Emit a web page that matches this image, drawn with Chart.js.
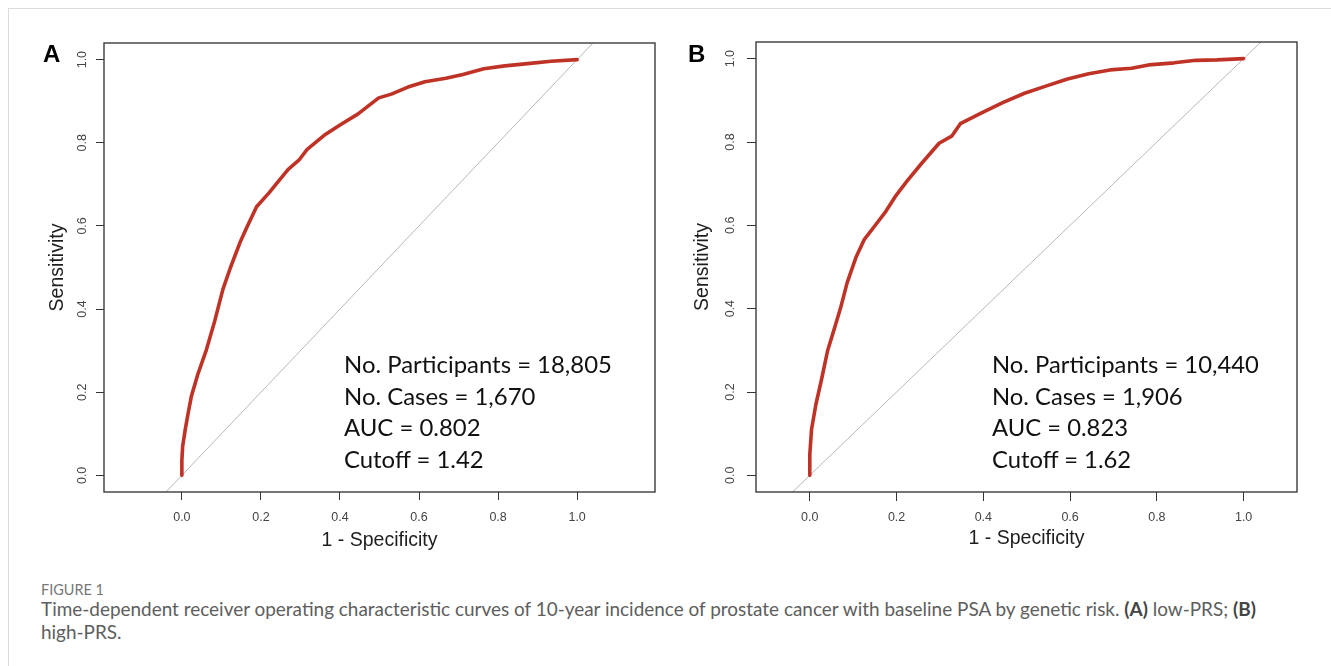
<!DOCTYPE html>
<html>
<head>
<meta charset="utf-8">
<script src="https://cdn.jsdelivr.net/npm/chart.js@4.4.0/dist/chart.umd.min.js"></script>
<style>
  body { margin: 0; background: #fff; width: 1331px; height: 666px; overflow: hidden; position: relative; }
  .frame { position: absolute; left: 8px; top: 8px; width: 1400px; height: 720px; border: 1px solid #dcdcdc; }
  canvas { position: absolute; top: 0; }
  #rocA { left: 0; }
  #rocB { left: 660px; }
  .panel { position: absolute; top: 42px; font: bold 24px 'Liberation Sans', Arial, sans-serif; line-height: 1; color: #000; }
  .info { position: absolute; top: 348px; font-family: Lato, sans-serif; font-size: 23px; line-height: 31.7px; color: #111; white-space: nowrap; }
  .info span { display: inline-block; }
  .fig { position: absolute; left: 41px; top: 581px; font-family: Lato, sans-serif; font-size: 12px; line-height: 18px; color: #777; white-space: nowrap; }
  .cap { position: absolute; left: 41px; top: 598px; font-family: Lato, sans-serif; font-size: 15.5px; line-height: 21px; color: #5e5e5e; white-space: nowrap; }
  .cap b { color: #444; }
  .fig span, .cap span { display: inline-block; }
</style>
</head>
<body>
<div class="frame"></div>
<canvas id="rocA" width="665" height="560"></canvas>
<canvas id="rocB" width="671" height="560"></canvas>
<div class="panel" style="left:43px">A</div>
<div class="panel" style="left:688px">B</div>
<div class="info" id="infoA" style="left:344px"></div>
<div class="info" id="infoB" style="left:992px"></div>
<div class="fig"><span id="figLabel"></span></div>
<div class="cap"><span id="cap1"></span><br><span id="cap2"></span></div>
<script>
// axis ticks
const tickVals = [0, 0.2, 0.4, 0.6, 0.8, 1.0];
const refLine = [-1, 2];

// panel A: low-PRS
const fprA = [0, 0, 0.002, 0.009, 0.016, 0.024, 0.04, 0.062, 0.083, 0.104, 0.123, 0.147, 0.163, 0.189, 0.221, 0.243, 0.269, 0.296, 0.317, 0.36, 0.402, 0.445, 0.498, 0.53, 0.572, 0.615, 0.668, 0.711, 0.764, 0.817, 0.881, 0.934, 1];
const tprA = [0, 0.036, 0.07, 0.113, 0.15, 0.19, 0.242, 0.302, 0.371, 0.448, 0.5, 0.56, 0.594, 0.646, 0.68, 0.706, 0.736, 0.758, 0.784, 0.818, 0.844, 0.869, 0.908, 0.917, 0.934, 0.947, 0.955, 0.964, 0.978, 0.985, 0.991, 0.996, 1];
const infoA = ['No. Participants = 18,805', 'No. Cases = 1,670', 'AUC = 0.802', 'Cutoff = 1.42'];

// panel B: high-PRS
const fprB = [0, 0, 0.004, 0.014, 0.027, 0.041, 0.056, 0.071, 0.086, 0.106, 0.125, 0.15, 0.175, 0.199, 0.224, 0.258, 0.298, 0.327, 0.347, 0.396, 0.446, 0.495, 0.544, 0.594, 0.643, 0.692, 0.742, 0.781, 0.84, 0.89, 0.939, 1];
const tprB = [0, 0.05, 0.11, 0.17, 0.23, 0.299, 0.35, 0.402, 0.462, 0.522, 0.565, 0.599, 0.633, 0.672, 0.706, 0.749, 0.797, 0.814, 0.844, 0.87, 0.895, 0.917, 0.934, 0.951, 0.964, 0.973, 0.977, 0.985, 0.99, 0.996, 0.997, 1];
const infoB = ['No. Participants = 10,440', 'No. Cases = 1,906', 'AUC = 0.823', 'Cutoff = 1.62'];

const xTitle = '1 - Specificity';
const yTitle = 'Sensitivity';
const figLabel = 'FIGURE 1';
const caption1 = 'Time-dependent receiver operating characteristic curves of 10-year incidence of prostate cancer with baseline PSA by genetic risk. <b>(A)</b> low-PRS; <b>(B)</b>';
const caption2 = 'high-PRS.';

const axisFont = { family: "'Liberation Sans', Arial, sans-serif", size: 12.5 };
const titleFont = { family: "'Liberation Sans', Arial, sans-serif", size: 19.5 };

// draw the full frame around the plot region, like R's box()
const boxPlugin = {
    id: 'box',
    afterDraw(chart) {
        const { ctx, chartArea: a } = chart;
        ctx.save();
        ctx.strokeStyle = '#3c3c3c';
        ctx.lineWidth = 1.4;
        ctx.strokeRect(a.left, a.top, a.right - a.left, a.bottom - a.top);
        ctx.restore();
    }
};

function rocChart(id, fpr, tpr, L) {
    const pts = fpr.map((x, i) => ({ x: x, y: tpr[i] }));
    const diag = refLine.map(v => ({ x: v, y: v }));
    return new Chart(document.getElementById(id), {
        type: 'line',
        data: {
            datasets: [
                { data: pts, borderColor: '#bf3326', borderWidth: 3.6, pointRadius: 0, tension: 0,
                  borderJoinStyle: 'round', borderCapStyle: 'round' },
                { data: diag, borderColor: '#b8b8b8', borderWidth: 1, pointRadius: 0 }
            ]
        },
        options: {
            responsive: false,
            animation: false,
            devicePixelRatio: 1,
            layout: { padding: { left: 0, top: L.top, right: L.right, bottom: 0 } },
            plugins: { legend: { display: false }, tooltip: { enabled: false } },
            scales: {
                x: {
                    type: 'linear', min: L.xmin, max: L.xmax,
                    afterBuildTicks: s => { s.ticks = tickVals.map(v => ({ value: v })); },
                    afterFit: s => { s.height = 68; },
                    grid: { drawOnChartArea: false, tickLength: L.tl, color: '#333', lineWidth: 1 },
                    border: { display: false },
                    ticks: { font: axisFont, color: '#444', padding: L.xPad, maxRotation: 0,
                             callback: v => v.toFixed(1) },
                    title: { display: true, text: xTitle, font: titleFont, color: '#1e1e1e',
                             padding: { top: 0, bottom: L.xTitlePad } }
                },
                y: {
                    type: 'linear', min: -0.04, max: 1.04,
                    afterBuildTicks: s => { s.ticks = tickVals.map(v => ({ value: v })); },
                    afterFit: s => { s.width = L.yWidth; },
                    grid: { drawOnChartArea: false, tickLength: L.tl, color: '#333', lineWidth: 1 },
                    border: { display: false },
                    ticks: { font: axisFont, color: '#444', padding: L.yPad, minRotation: 90, maxRotation: 90,
                             crossAlign: 'center', callback: v => v.toFixed(1) },
                    title: { display: true, text: yTitle, font: titleFont, color: '#1e1e1e',
                             padding: { top: L.yTitlePad, bottom: 0 } }
                }
            }
        },
        plugins: [boxPlugin]
    });
}

rocChart('rocA', fprA, tprA, { top: 43, right: 10, xmin: -0.197, xmax: 1.197, tl: 8,
    yWidth: 104, yPad: 5, xPad: 10.5, xTitlePad: 7.6, yTitlePad: 45.6 });
rocChart('rocB', fprB, tprB, { top: 42, right: 34, xmin: -0.124, xmax: 1.123, tl: 9,
    yWidth: 96, yPad: 8, xPad: 9.3, xTitlePad: 9.6, yTitlePad: 30.6 });

// text blocks, font size fitted to the measured widths
function fit(el, target) {
    const w = el.getBoundingClientRect().width;
    const fs = parseFloat(getComputedStyle(el).fontSize);
    el.style.fontSize = (fs * target / w) + 'px';
}
function fillInfo(id, lines, width) {
    const box = document.getElementById(id);
    box.innerHTML = lines.map(t => '<span>' + t + '</span>').join('<br>');
    const first = box.querySelector('span');
    const w = first.getBoundingClientRect().width;
    const fs = parseFloat(getComputedStyle(box).fontSize);
    box.style.fontSize = (fs * width / w) + 'px';
}
fillInfo('infoA', infoA, 268);
fillInfo('infoB', infoB, 267);

document.getElementById('figLabel').textContent = figLabel;
fit(document.getElementById('figLabel'), 63);
const c1 = document.getElementById('cap1');
const c2 = document.getElementById('cap2');
c1.innerHTML = caption1;
c2.textContent = caption2;
const capW = c1.getBoundingClientRect().width;
const capFs = 15.5 * 1216 / capW;
c1.style.fontSize = capFs + 'px';
c2.style.fontSize = capFs + 'px';
</script>
</body>
</html>
